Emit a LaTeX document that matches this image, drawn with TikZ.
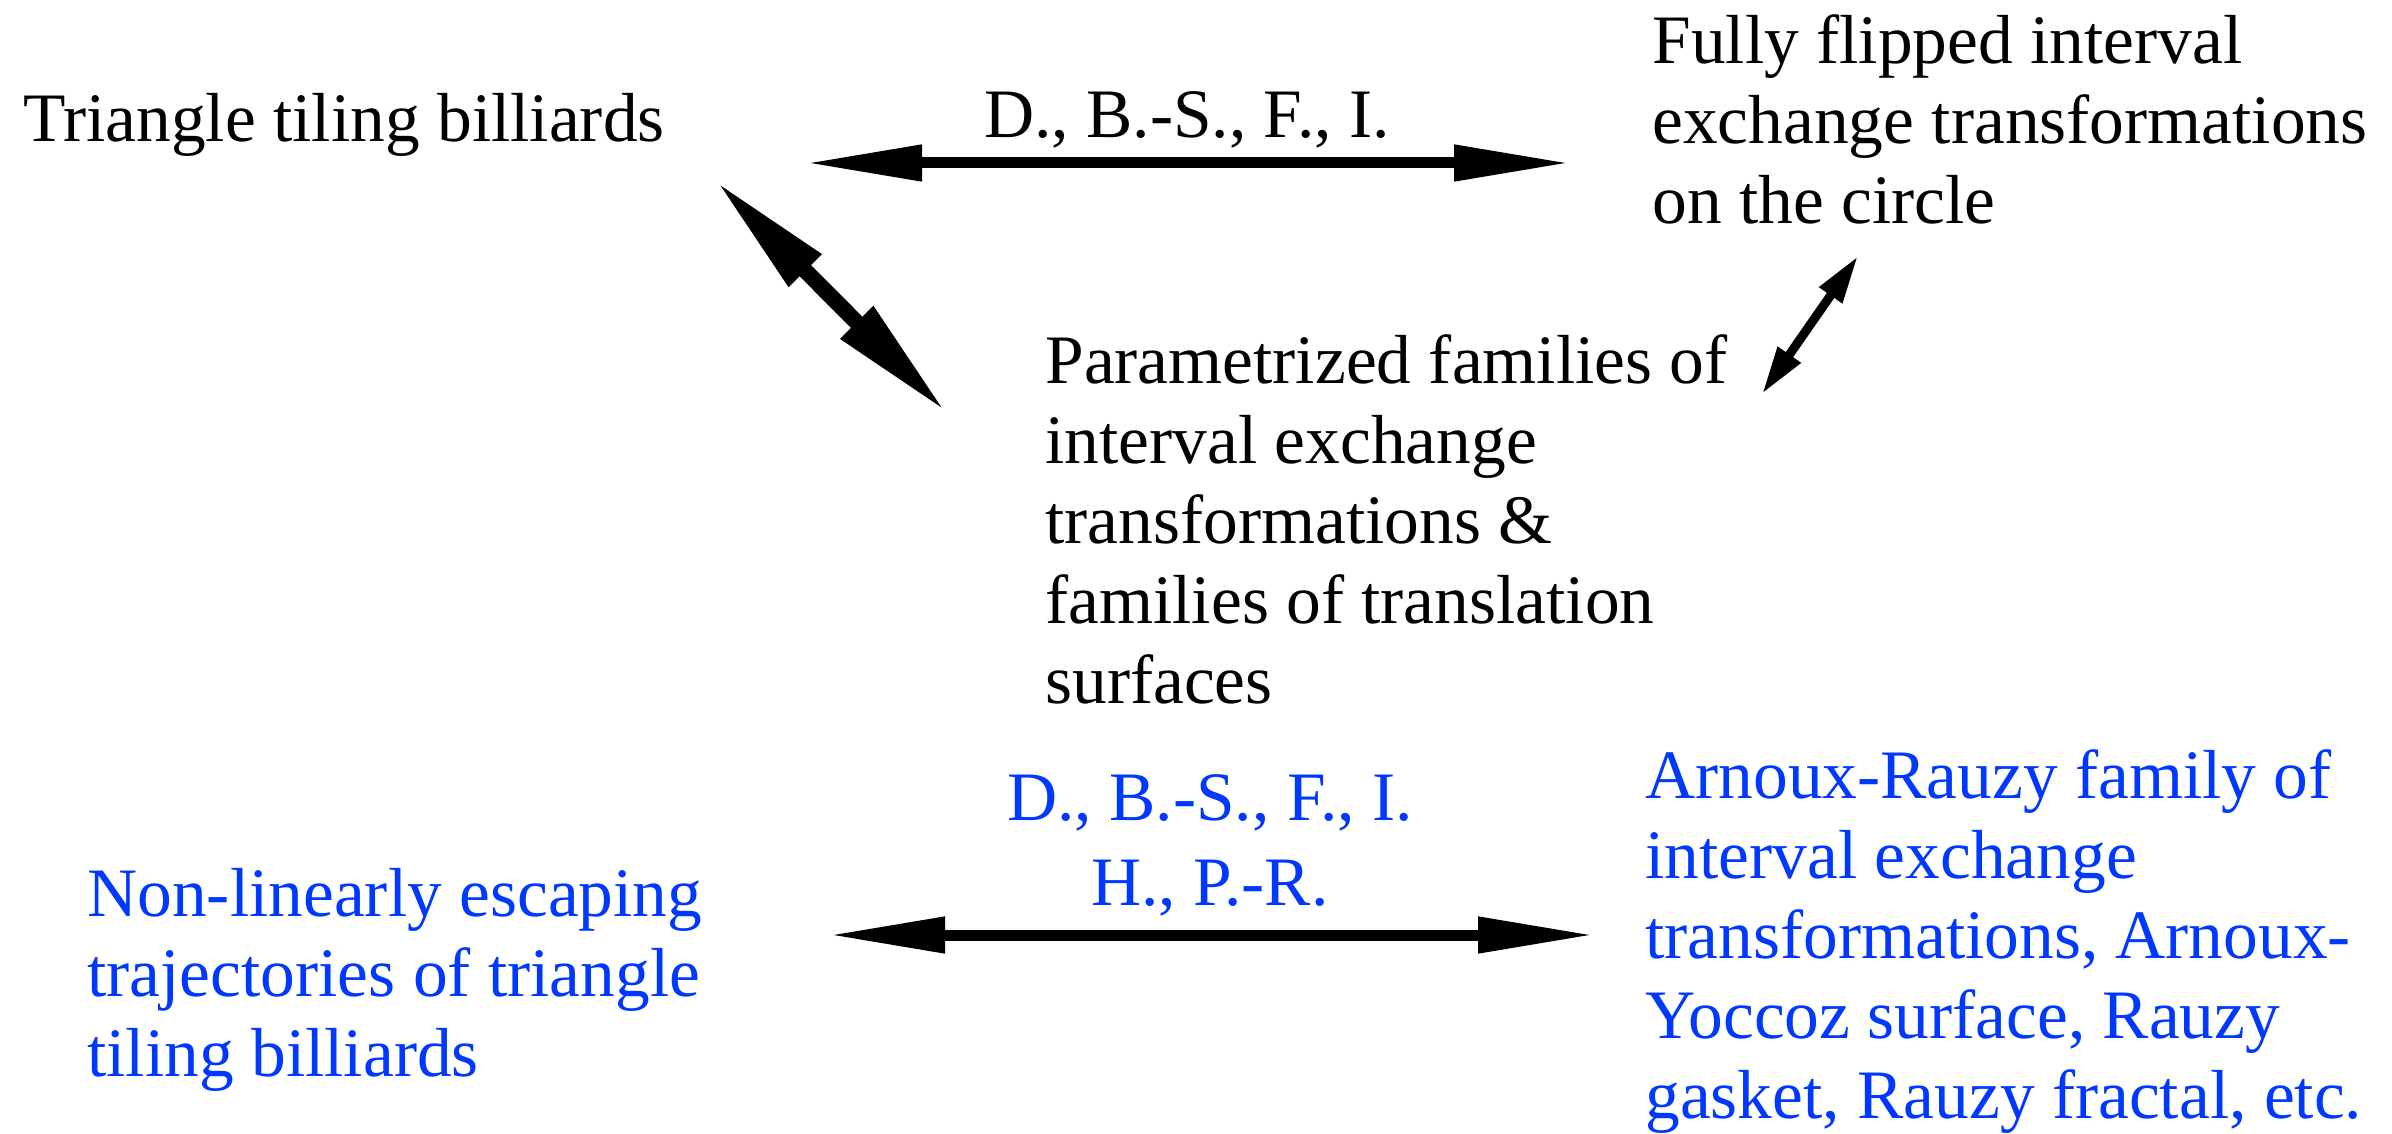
\documentclass[tikz,border=0pt]{standalone}
\usepackage{fontspec}
\setmainfont{Liberation Serif}
\usetikzlibrary{arrows.meta}
\definecolor{refblue}{RGB}{0,56,255}
\begin{document}
\begin{tikzpicture}[x=0.5pt,y=-0.5pt,
  txt/.style={font=\fontsize{34.7pt}{40pt}\selectfont, inner sep=0pt, align=left, anchor=base west},
  lbl/.style={font=\fontsize{34.7pt}{42.5pt}\selectfont, inner sep=0pt, align=center, anchor=base},
  hbar/.style={line width=5.5pt, {Triangle[length=58pt,width=17pt]}-{Triangle[length=58pt,width=17pt]}},
  dbar/.style={line width=8pt, {Triangle[length=64pt,width=21pt]}-{Triangle[length=64pt,width=21pt]}},
  sbar/.style={line width=4.5pt, {Triangle[length=24pt,width=13pt]}-{Triangle[length=24pt,width=13pt]}}]
\useasboundingbox (0,0) rectangle (2392,1134);
% texts (anchored at the baseline of their last line)
\node[txt] (tri) at (23,142) {Triangle tiling billiards};
\node[txt] (ffl) at (1652,224) {Fully flipped interval\\exchange transformations\\on the circle};
\node[txt] (par) at (1045,703) {Parametrized families of\\interval exchange\\transformations \&\\families of translation\\surfaces};
\node[txt, text=refblue] (nle) at (87,1076) {Non-linearly escaping\\trajectories of triangle\\tiling billiards};
\node[txt, text=refblue] (arf) at (1645,1118) {Arnoux-Rauzy family of\\interval exchange\\transformations, Arnoux-\\Yoccoz surface, Rauzy\\gasket, Rauzy fractal, etc.};
\node[lbl] (ltop) at (1187,138) {D., B.-S., F., I.};
\node[lbl, text=refblue] (lbot) at (1210,905) {D., B.-S., F., I.\\H., P.-R.};
% arrow ends
\coordinate (a1) at (806,163);
\coordinate (a2) at (1570,163);
\coordinate (b1) at (715,180);
\coordinate (b2) at (947,413);
\coordinate (c1) at (1858,256);
\coordinate (c2) at (1762,394);
\coordinate (d1) at (829,935);
\coordinate (d2) at (1594,935);
\draw[hbar] (a1) -- (a2);
\draw[dbar] (b1) -- (b2);
\draw[sbar] (c1) -- (c2);
\draw[hbar] (d1) -- (d2);
\end{tikzpicture}
\end{document}
